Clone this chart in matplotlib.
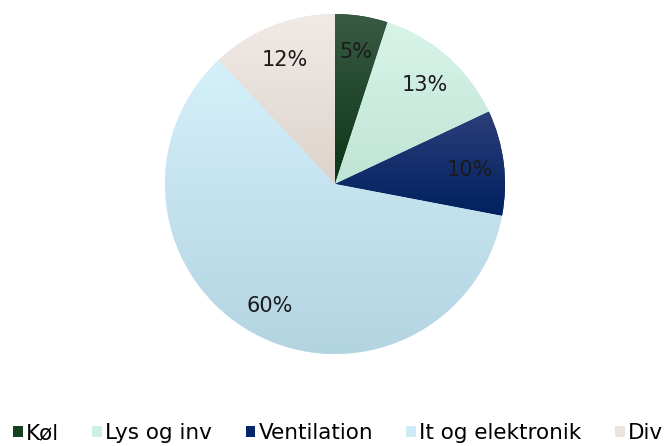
import matplotlib
matplotlib.use("Agg")
import matplotlib.pyplot as plt
import numpy as np
from matplotlib.patches import Patch

# --- data ---
CATEGORIES = ["Køl", "Lys og inv", "Ventilation", "It og elektronik", "Div"]
SHARES = [5, 13, 10, 60, 12]
COLORS = ["#14421f", "#cdf0e2", "#04246c", "#cdeaf6", "#ebe3dd"]
# top / bottom shades of the vertical gradient in each slice
COLORS_TOP = ["#3a5a44", "#d8f4e9", "#2c3f7a", "#d4f0fb", "#f0eae6"]
COLORS_BOT = ["#0a3516", "#c0e4d5", "#00205f", "#b3d4e1", "#ddd3cc"]

plt.rcParams["font.family"] = ["DejaVu Sans"]

fig = plt.figure(figsize=(6.68, 4.46), dpi=100)
ax = fig.add_axes([165 / 668, 92 / 446, 340 / 668, 340 / 446])

wedges, texts, autotexts = ax.pie(
    SHARES, colors=COLORS, startangle=90, counterclock=False,
    autopct="%d%%", pctdistance=0.8, radius=1.0,
    wedgeprops={"linewidth": 0},
    textprops={"fontsize": 15, "color": "#1a1a1a"},
)

# per-slice vertical gradient, like the spreadsheet look
for w, c_top, c_bot in zip(wedges, COLORS_TOP, COLORS_BOT):
    top = np.array(matplotlib.colors.to_rgb(c_top))
    bot = np.array(matplotlib.colors.to_rgb(c_bot))
    bb = w.get_path().get_extents()
    t = np.linspace(0, 1, 256)[:, None]
    grad = (top[None, :] * (1 - t) + bot[None, :] * t)[:, None, :]
    im = ax.imshow(grad, extent=(bb.x0, bb.x1, bb.y0, bb.y1), aspect="auto",
                   origin="upper", zorder=w.get_zorder() + 0.1)
    im.set_clip_path(w)

for t in autotexts:
    x, y = t.get_position()
    t.set_position((x, y - 0.015))
    t.set_zorder(5)

ax.set_xlim(-1, 1)
ax.set_ylim(-1, 1)
ax.set_aspect("equal")
ax.axis("off")

handles = [Patch(facecolor=c, edgecolor="none") for c in COLORS]
fig.legend(handles, CATEGORIES, loc="center", bbox_to_anchor=(338 / 668, 1 - 433 / 446),
           ncol=5, frameon=False, fontsize=15.5, handlelength=0.45,
           handleheight=0.45, handletextpad=0.15, columnspacing=1.55,
           borderaxespad=0, borderpad=0)

fig.savefig("out.png", dpi=100)
